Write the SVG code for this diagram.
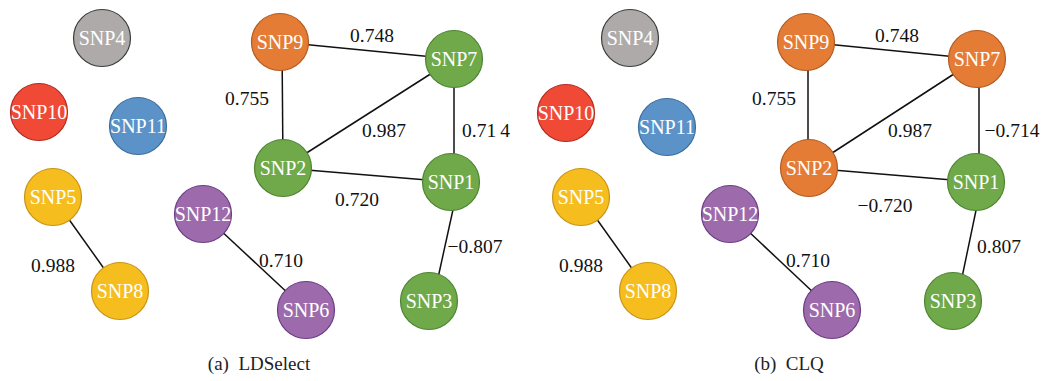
<svg xmlns="http://www.w3.org/2000/svg" width="1046" height="381" viewBox="0 0 1046 381">
<style>
.n text{font-family:"Liberation Serif",serif;font-size:20px;fill:#fff;text-anchor:middle}
.n circle{stroke-width:1.2}
.or circle{fill:#E47C36;stroke:#B25A20}
.gr circle{fill:#6FA94A;stroke:#4E8431}
.gy circle{fill:#AEAAA9;stroke:#3C3C3C}
.rd circle{fill:#F04A37;stroke:#B02A20}
.bl circle{fill:#5B93C9;stroke:#3C6D9A}
.yl circle{fill:#F6BD1E;stroke:#C89414}
.pu circle{fill:#9D6BAB;stroke:#6A3C86}
.e line{stroke:#111;stroke-width:1.5}
.lb{font-family:"Liberation Serif",serif;font-size:19.5px;fill:#111;text-anchor:middle}
.cap{font-family:"Liberation Serif",serif;font-size:19px;fill:#222;text-anchor:middle}
</style>
<rect width="1046" height="381" fill="#fff"/>
<g id="connectors">
<g class="e">
<line x1="280" y1="42" x2="454" y2="59"/>
<line x1="282" y1="42" x2="283" y2="168"/>
<line x1="283" y1="168" x2="454" y2="59"/>
<line x1="454" y1="59" x2="454" y2="182"/>
<line x1="283" y1="168" x2="451" y2="182"/>
<line x1="456" y1="196" x2="436" y2="287"/>
<line x1="53" y1="197" x2="120" y2="291"/>
<line x1="203" y1="214" x2="306" y2="310"/>
<line x1="806" y1="42" x2="977" y2="59"/>
<line x1="808" y1="42" x2="808" y2="168"/>
<line x1="809" y1="168" x2="977" y2="59"/>
<line x1="979" y1="59" x2="979" y2="182"/>
<line x1="809" y1="168" x2="976" y2="182"/>
<line x1="979" y1="196" x2="960" y2="287"/>
<line x1="581" y1="197" x2="648" y2="291"/>
<line x1="730" y1="214" x2="832" y2="310"/>
</g>
<text class="lb" x="372" y="42">0.748</text>
<text class="lb" x="247" y="105">0.755</text>
<text class="lb" x="384" y="137">0.987</text>
<text class="lb" x="486" y="137">0.71<tspan dx="4">4</tspan></text>
<text class="lb" x="357" y="206">0.720</text>
<text class="lb" x="475" y="253">−0.807</text>
<text class="lb" x="53" y="272">0.988</text>
<text class="lb" x="281" y="267">0.710</text>
<text class="lb" x="897" y="42">0.748</text>
<text class="lb" x="774" y="105">0.755</text>
<text class="lb" x="910" y="137">0.987</text>
<text class="lb" x="1012" y="137">−0.714</text>
<text class="lb" x="885" y="212">−0.720</text>
<text class="lb" x="999" y="253">0.807</text>
<text class="lb" x="581" y="272">0.988</text>
<text class="lb" x="808" y="267">0.710</text>
</g>
<g id="a-SNP4" class="n gy"><circle cx="102" cy="38" r="28.5"/><text x="102" y="45">SNP4</text></g>
<g id="a-SNP10" class="n rd"><circle cx="39" cy="112" r="28.5"/><text x="39" y="119">SNP10</text></g>
<g id="a-SNP11" class="n bl"><circle cx="138" cy="126" r="28.5"/><text x="138" y="133">SNP11</text></g>
<g id="a-SNP9" class="n or"><circle cx="280" cy="42" r="28.5"/><text x="280" y="49">SNP9</text></g>
<g id="a-SNP7" class="n gr"><circle cx="454" cy="59" r="28.5"/><text x="454" y="66">SNP7</text></g>
<g id="a-SNP2" class="n gr"><circle cx="283" cy="168" r="28.5"/><text x="283" y="175">SNP2</text></g>
<g id="a-SNP1" class="n gr"><circle cx="451" cy="182" r="28.5"/><text x="451" y="189">SNP1</text></g>
<g id="a-SNP3" class="n gr"><circle cx="429" cy="301" r="28.5"/><text x="429" y="308">SNP3</text></g>
<g id="a-SNP5" class="n yl"><circle cx="53" cy="197" r="28.5"/><text x="53" y="204">SNP5</text></g>
<g id="a-SNP8" class="n yl"><circle cx="120" cy="291" r="28.5"/><text x="120" y="298">SNP8</text></g>
<g id="a-SNP12" class="n pu"><circle cx="203" cy="214" r="28.5"/><text x="203" y="221">SNP12</text></g>
<g id="a-SNP6" class="n pu"><circle cx="306" cy="310" r="28.5"/><text x="306" y="317">SNP6</text></g>
<g id="b-SNP4" class="n gy"><circle cx="630" cy="38" r="28.5"/><text x="630" y="45">SNP4</text></g>
<g id="b-SNP10" class="n rd"><circle cx="566" cy="113" r="28.5"/><text x="566" y="120">SNP10</text></g>
<g id="b-SNP11" class="n bl"><circle cx="667" cy="127" r="28.5"/><text x="667" y="134">SNP11</text></g>
<g id="b-SNP9" class="n or"><circle cx="806" cy="42" r="28.5"/><text x="806" y="49">SNP9</text></g>
<g id="b-SNP7" class="n or"><circle cx="977" cy="59" r="28.5"/><text x="977" y="66">SNP7</text></g>
<g id="b-SNP2" class="n or"><circle cx="809" cy="168" r="28.5"/><text x="809" y="175">SNP2</text></g>
<g id="b-SNP1" class="n gr"><circle cx="976" cy="182" r="28.5"/><text x="976" y="189">SNP1</text></g>
<g id="b-SNP3" class="n gr"><circle cx="953" cy="301" r="28.5"/><text x="953" y="308">SNP3</text></g>
<g id="b-SNP5" class="n yl"><circle cx="581" cy="197" r="28.5"/><text x="581" y="204">SNP5</text></g>
<g id="b-SNP8" class="n yl"><circle cx="648" cy="291" r="28.5"/><text x="648" y="298">SNP8</text></g>
<g id="b-SNP12" class="n pu"><circle cx="730" cy="214" r="28.5"/><text x="730" y="221">SNP12</text></g>
<g id="b-SNP6" class="n pu"><circle cx="832" cy="310" r="28.5"/><text x="832" y="317">SNP6</text></g>
<text class="cap" x="259" y="370" xml:space="preserve">(a)  LDSelect</text>
<text class="cap" x="789" y="370" xml:space="preserve">(b)  CLQ</text>
</svg>
